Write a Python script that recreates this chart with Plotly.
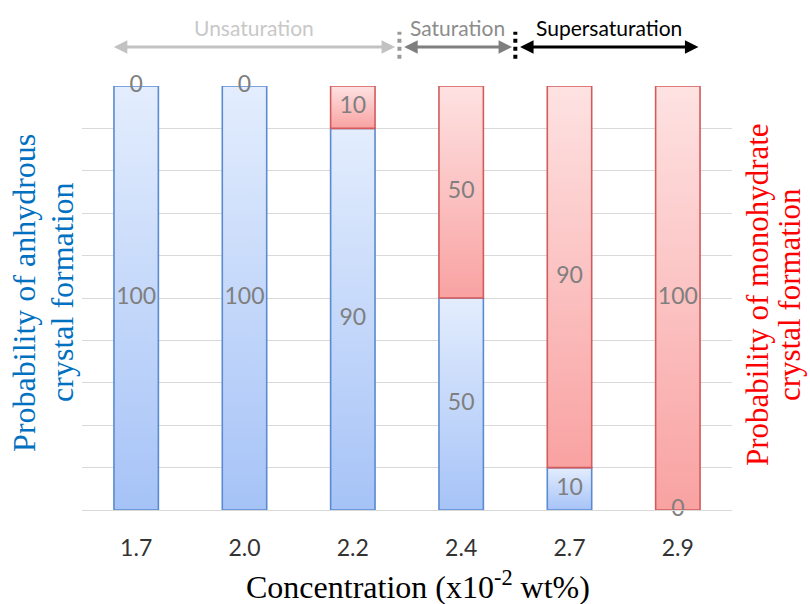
import plotly.graph_objects as go

# Concentration categories (x10^-2 wt%) and formation probabilities (%)
categories = ["1.7", "2.0", "2.2", "2.4", "2.7", "2.9"]
anhydrous = [100, 100, 90, 50, 10, 0]
monohydrate = [0, 0, 10, 50, 90, 100]

# Solubility regions drawn above the plot
region_names = ["Unsaturation", "Saturation", "Supersaturation"]

# ---- styling -------------------------------------------------------------
BAR_W = 0.41
BLUE_SCALE = [[0, "#a6c3f7"], [1, "#e3edfd"]]
RED_SCALE = [[0, "#f9a2a2"], [1, "#fee2e2"]]
BLUE_EDGE = "#5a8bd2"
RED_EDGE = "#d45b5b"
LABEL_COLOR = "#7f7f7f"
UI_FONT = "Lato"
SERIF = "Liberation Serif"

region_spans = [(-0.22, 2.39), (2.46, 3.47), (3.53, 5.19)]
region_colors = ["#c2c2c2", "#7f7f7f", "#000000"]
region_text_colors = ["#c8c8c8", "#8c8c8c", "#000000"]
divider_x = [2.43, 3.5]
divider_colors = ["#9a9a9a", "#000000"]

fig = go.Figure()


def add_segment(i, base, top, scale, edge):
    x0, x1 = i - BAR_W / 2, i + BAR_W / 2
    fig.add_trace(go.Scatter(
        x=[x0, x1, x1, x0, x0],
        y=[base, base, top, top, base],
        mode="lines",
        fill="toself",
        fillgradient=dict(type="vertical", colorscale=scale),
        line=dict(color=edge, width=1.6),
        hoverinfo="skip",
        showlegend=False,
    ))


# Stacked bars: anhydrous at the bottom, monohydrate on top
for i, (a, m) in enumerate(zip(anhydrous, monohydrate)):
    if a > 0:
        add_segment(i, 0, a, BLUE_SCALE, BLUE_EDGE)
    if m > 0:
        add_segment(i, a, a + m, RED_SCALE, RED_EDGE)

# Value labels centred in each segment
label_x, label_y, label_t = [], [], []
for i, (a, m) in enumerate(zip(anhydrous, monohydrate)):
    label_x += [i, i]
    label_y += [a / 2, a + m / 2]
    label_t += [str(a), str(m)]
fig.add_trace(go.Scatter(
    x=label_x, y=label_y, text=label_t, mode="text",
    textfont=dict(family=UI_FONT, size=23, color=LABEL_COLOR),
    textposition="middle center", hoverinfo="skip", showlegend=False,
    cliponaxis=False,
))

annotations = []
# Region arrows and names
ARROW_Y = 1.092
TEXT_Y = 1.139
for name, (s, e), col, tcol in zip(region_names, region_spans,
                                   region_colors, region_text_colors):
    annotations.append(dict(
        x=e, y=ARROW_Y, xref="x", yref="paper",
        ax=s, ay=0, axref="x", ayref="pixel",
        text="", showarrow=True, arrowhead=2, arrowside="end+start",
        arrowsize=0.9, arrowwidth=3, arrowcolor=col, standoff=0,
        startstandoff=0,
    ))
    annotations.append(dict(
        x=(s + e) / 2, y=TEXT_Y, xref="x", yref="paper",
        text=name, showarrow=False, xanchor="center", yanchor="middle",
        font=dict(family=UI_FONT, size=21, color=tcol),
    ))

shapes = []
for dx, dc in zip(divider_x, divider_colors):
    shapes.append(dict(
        type="line", xref="x", yref="paper",
        x0=dx, x1=dx, y0=1.064, y1=1.128,
        line=dict(color=dc, width=4, dash="4px,4px"),
    ))

# Axis titles (each title line placed separately for tight line spacing)
annotations.append(dict(
    x=0.517, y=-0.177, xref="paper", yref="paper",
    text="Concentration (x10<sup>-2</sup> wt%)", showarrow=False,
    font=dict(family=SERIF, size=32, color="#000000"),
    xanchor="center", yanchor="middle",
))
title_lines = [
    (["Probability of anhydrous", "crystal formation"], [24, 62], 0.512, "#0070c0", 32),
    (["Probability of monohydrate", "crystal formation"], [757, 789], 0.507, "#ff0000", 31),
]
for lines, centers, yc, col, fs in title_lines:
    for txt, cx in zip(lines, centers):
        annotations.append(dict(
            x=(cx - 82) / 650, y=yc, xref="paper", yref="paper",
            text=txt, showarrow=False, textangle=-90,
            font=dict(family=SERIF, size=fs, color=col),
            xanchor="center", yanchor="middle",
        ))

fig.update_layout(
    width=810, height=604,
    margin=dict(l=82, r=78, t=86, b=94),
    paper_bgcolor="white", plot_bgcolor="white",
    annotations=annotations, shapes=shapes,
    xaxis=dict(
        range=[-0.5, len(categories) - 0.5],
        tickvals=list(range(len(categories))), ticktext=categories,
        showgrid=False, zeroline=False,
        showline=True, linecolor="#d9d9d9", linewidth=1,
        ticks="outside", ticklen=17, tickcolor="rgba(0,0,0,0)",
        tickfont=dict(family=UI_FONT, size=23, color="#333333"),
    ),
    yaxis=dict(
        range=[0, 100], dtick=10, showticklabels=False,
        showgrid=True, gridcolor="#d9d9d9", gridwidth=1,
        zeroline=False, showline=False,
    ),
)

fig.write_html("out.html")
